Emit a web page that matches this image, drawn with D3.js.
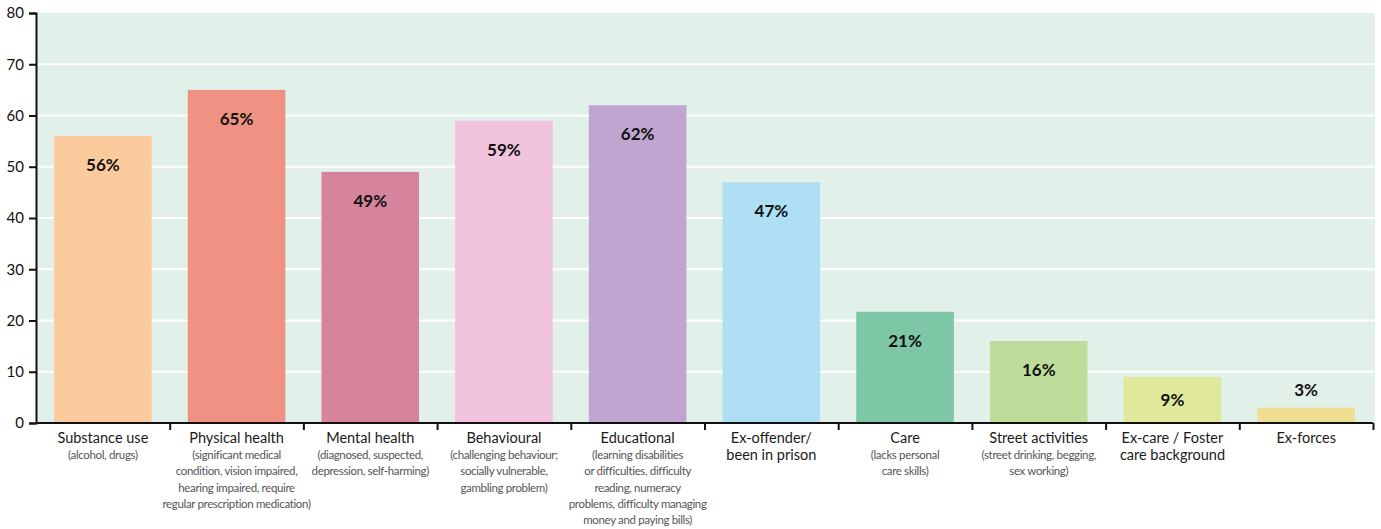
<!DOCTYPE html>
<html>
<head>
<meta charset="utf-8" />
<script src="https://d3js.org/d3.v7.min.js"></script>
<style>
	body { margin: 0; background: #fff; }
	svg { font-family: Lato, "Open Sans", sans-serif; }
</style>
</head>
<body>
<div id="chart"></div>
<script>
	// data
	var categories = ["Substance use", "Physical health", "Mental health", "Behavioural", "Educational",
		"Ex-offender/ been in prison", "Care", "Street activities", "Ex-care / Foster care background", "Ex-forces"];
	var values = [56, 65, 49, 59, 62, 47, 21.7, 16, 9, 3];
	var valueLabels = ["56%", "65%", "49%", "59%", "62%", "47%", "21%", "16%", "9%", "3%"];
	var titleLines = [
		["Substance use"], ["Physical health"], ["Mental health"], ["Behavioural"], ["Educational"],
		["Ex-offender/", "been in prison"], ["Care"], ["Street activities"], ["Ex-care / Foster", "care background"], ["Ex-forces"]
	];
	var noteLines = [
		["(alcohol, drugs)"],
		["(significant medical", "condition, vision impaired,", "hearing impaired, require", "regular prescription medication)"],
		["(diagnosed, suspected,", "depression, self-harming)"],
		["(challenging behaviour;", "socially vulnerable,", "gambling problem)"],
		["(learning disabilities", "or difficulties, difficulty", "reading, numeracy", "problems, difficulty managing", "money and paying bills)"],
		[],
		["(lacks personal", "care skills)"],
		["(street drinking, begging,", "sex working)"],
		[],
		[]
	];
	var colors = ["#fccb9d", "#f09283", "#d5849b", "#f2c3dc", "#bfa5cf", "#aedff5", "#7dc6a6", "#bedd9a", "#e0e89b", "#f0de93"];
	var yTicks = [0, 10, 20, 30, 40, 50, 60, 70, 80];

	var width = 1381, height = 529;
	var plotLeft = 36, plotRight = 1373, plotTop = 13, plotBottom = 423;

	var svg = d3.select("#chart").append("svg")
		.attr("width", width)
		.attr("height", height);

	var x = d3.scaleBand()
		.domain(categories)
		.range([plotLeft, plotRight])
		.paddingInner(0.27)
		.paddingOuter(0.135);

	var xEdges = d3.scaleLinear().domain([0, categories.length]).range([plotLeft, plotRight]);

	var y = d3.scaleLinear()
		.domain([0, 80])
		.range([plotBottom, plotTop]);

	// plot background
	svg.append("rect")
		.attr("x", plotLeft)
		.attr("y", plotTop)
		.attr("width", plotRight + 2 - plotLeft)
		.attr("height", plotBottom - plotTop)
		.attr("fill", "#e1f0e8");

	// white grid lines
	svg.selectAll(".grid")
		.data(yTicks.filter(function (d) { return d > 0 && d < 80; }))
		.enter().append("line")
		.attr("x1", plotLeft)
		.attr("x2", plotRight + 2)
		.attr("y1", function (d) { return y(d); })
		.attr("y2", function (d) { return y(d); })
		.attr("stroke", "#fff")
		.attr("stroke-width", 2);

	// bars
	svg.selectAll(".bar")
		.data(categories)
		.enter().append("rect")
		.attr("x", function (d) { return x(d); })
		.attr("width", x.bandwidth())
		.attr("y", function (d, i) { return y(values[i]); })
		.attr("height", function (d, i) { return plotBottom - y(values[i]); })
		.attr("fill", function (d, i) { return colors[i]; });

	// value labels
	svg.selectAll(".val")
		.data(categories)
		.enter().append("text")
		.attr("x", function (d) { return x(d) + x.bandwidth() / 2; })
		.attr("y", function (d, i) {
			var t = y(values[i]), h = plotBottom - t;
			if (h > 58) return t + 29;
			if (h > 30) return t + h / 2;
			return t - 18;
		})
		.attr("dy", "0.35em")
		.attr("text-anchor", "middle")
		.attr("font-size", 17)
		.attr("font-weight", "bold")
		.attr("fill", "#111")
		.text(function (d, i) { return valueLabels[i]; });

	// y axis
	var yAxis = svg.append("g")
		.attr("transform", "translate(" + plotLeft + ",0)")
		.call(d3.axisLeft(y).tickValues(yTicks).tickSize(7).tickPadding(5));
	yAxis.select(".domain").attr("stroke", "#111").attr("stroke-width", 2);
	yAxis.selectAll(".tick line").attr("stroke", "#111").attr("stroke-width", 2);
	yAxis.selectAll(".tick text")
		.attr("font-family", "Lato, sans-serif")
		.attr("font-size", 15)
		.attr("fill", "#111");

	// x axis: ticks between categories
	var xAxis = svg.append("g")
		.attr("transform", "translate(0," + plotBottom + ")")
		.call(d3.axisBottom(xEdges).tickValues(d3.range(1, categories.length + 1)).tickSize(7).tickFormat(""));
	xAxis.select(".domain").attr("stroke", "#111").attr("stroke-width", 2).attr("d", "M" + plotLeft + ",0H" + plotRight);
	xAxis.selectAll(".tick line").attr("stroke", "#111").attr("stroke-width", 2);

	// category labels
	var lab = svg.selectAll(".cat")
		.data(categories)
		.enter().append("g")
		.attr("transform", function (d) { return "translate(" + (x(d) + x.bandwidth() / 2) + ",0)"; });

	lab.each(function (d, i) {
		var g = d3.select(this);
		titleLines[i].forEach(function (t, j) {
			g.append("text")
				.attr("y", 443 + j * 17)
				.attr("text-anchor", "middle")
				.attr("font-size", 14.5)
				.attr("fill", "#1a1a1a")
				.text(t);
		});
		noteLines[i].forEach(function (t, j) {
			g.append("text")
				.attr("y", 459 + j * 16.3)
				.attr("text-anchor", "middle")
				.attr("font-size", 11.5)
				.attr("letter-spacing", -0.35)
				.attr("fill", "#555")
				.text(t);
		});
	});
</script>
</body>
</html>
